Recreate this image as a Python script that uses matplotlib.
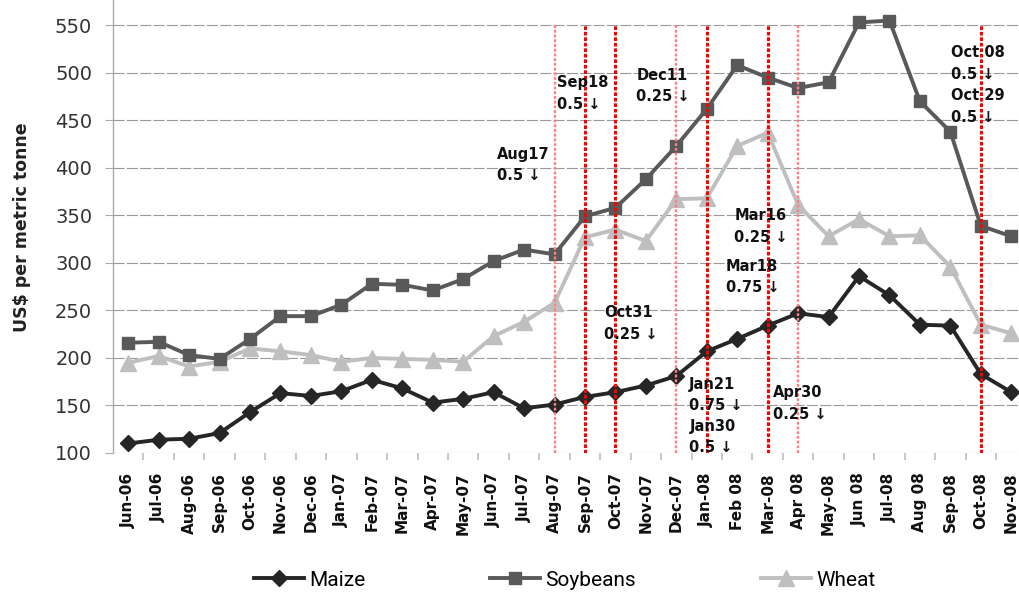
import matplotlib
matplotlib.use("Agg")
import matplotlib.pyplot as plt
from matplotlib.ticker import FixedLocator, NullFormatter

months = ["Jun-06", "Jul-06", "Aug-06", "Sep-06", "Oct-06", "Nov-06", "Dec-06",
          "Jan-07", "Feb-07", "Mar-07", "Apr-07", "May-07", "Jun-07", "Jul-07",
          "Aug-07", "Sep-07", "Oct-07", "Nov-07", "Dec-07", "Jan-08", "Feb 08",
          "Mar-08", "Apr 08", "May-08", "Jun 08", "Jul-08", "Aug 08", "Sep-08",
          "Oct-08", "Nov-08"]

maize = [110, 114, 115, 121, 143, 163, 160, 165, 177, 168, 153, 157, 164, 147,
         151, 159, 164, 171, 181, 207, 220, 234, 247, 243, 286, 266, 235, 234,
         183, 164]
soybeans = [216, 217, 203, 199, 220, 244, 244, 256, 278, 277, 271, 283, 302, 314,
            309, 349, 358, 388, 423, 462, 508, 495, 484, 490, 553, 555, 470, 438,
            339, 328]
wheat = [195, 202, 191, 196, 210, 207, 203, 196, 200, 199, 198, 196, 223, 238,
         258, 327, 335, 323, 367, 368, 423, 437, 361, 328, 346, 328, 329, 296,
         235, 226]

event_months = ["Aug-07", "Sep-07", "Oct-07", "Dec-07", "Jan-08", "Mar-08", "Apr 08", "Oct-08"]
event_strong = [False, True, True, False, True, True, False, True]

cut_labels = ["Aug17\n0.5 \u2193", "Sep18\n0.5 \u2193", "Dec11\n0.25 \u2193",
              "Oct31\n0.25 \u2193", "Jan21\n0.75 \u2193", "Jan30\n0.5 \u2193",
              "Mar16\n0.25 \u2193", "Mar18\n0.75 \u2193", "Apr30\n0.25 \u2193",
              "Oct 08\n0.5 \u2193\nOct 29\n0.5 \u2193"]
# label anchor (x in category index units, y in data units)
cut_pos = [(12.1, 403), (14.07, 478), (16.68, 486), (15.64, 236), (18.41, 161),
           (18.43, 117), (19.91, 338), (19.63, 285), (21.17, 152), (27.03, 487)]

fig = plt.figure(figsize=(10.19, 5.94), dpi=100)
ax = fig.add_axes([113 / 1019, 141 / 594, 913.5 / 1019, 453 / 594])

x = list(range(len(months)))
c_maize, c_soy, c_wheat = "#262626", "#595959", "#bfbfbf"
ax.plot(x, wheat, color=c_wheat, lw=2.8, marker="^", ms=11, zorder=3, label="Wheat")
ax.plot(x, soybeans, color=c_soy, lw=2.8, marker="s", ms=8.5, zorder=4, label="Soybeans")
ax.plot(x, maize, color=c_maize, lw=2.8, marker="D", ms=8, zorder=5, label="Maize")

for m, strong in zip(event_months, event_strong):
    xi = months.index(m)
    if strong:
        ax.vlines(xi, 100, 550, colors="#ff0000", linestyles=(0, (1.2, 0.6)), lw=2.2, zorder=6)
    else:
        ax.vlines(xi, 100, 550, colors="#ff8080", linestyles=(0, (1.2, 0.8)), lw=1.7, zorder=6)

for txt, (tx, ty) in zip(cut_labels, cut_pos):
    ax.text(tx, ty, txt, ha="left", va="center", fontsize=10.5, fontweight="bold",
            color="#111111", linespacing=1.55, zorder=7)

ax.set_xlim(-0.5, len(months) - 0.5)
ax.set_ylim(100, 100 + 453.3 / 0.9511)
ax.set_yticks(range(100, 551, 50))
ax.yaxis.grid(True, color="#999999", lw=0.8, linestyle=(0, (10, 2)))
ax.set_axisbelow(True)

ax.set_xticks(x)
ax.set_xticklabels(months, rotation=90, fontsize=11, fontweight="bold", color="#111111")
ax.tick_params(axis="x", which="major", length=0, pad=14)
ax.xaxis.set_minor_locator(FixedLocator([i + 0.5 for i in x]))
ax.xaxis.set_minor_formatter(NullFormatter())
ax.tick_params(axis="x", which="minor", length=5, color="#bfbfbf", width=1.2)
ax.tick_params(axis="y", length=6, color="#aaaaaa", labelsize=14, labelcolor="#333333", pad=9)

for s in ["top", "right", "bottom"]:
    ax.spines[s].set_visible(False)
ax.spines["left"].set_color("#aaaaaa")
ax.spines["left"].set_linewidth(1.0)

fig.text(22 / 1019, 1 - 227.5 / 594, "US$ per metric tonne", rotation=90,
         ha="center", va="center", fontsize=12.5, fontweight="bold", color="#222222")

handles, labels = ax.get_legend_handles_labels()
order = [2, 1, 0]
fig.legend([handles[i] for i in order], [labels[i] for i in order],
           loc="center", bbox_to_anchor=(0.554, 14 / 594), ncol=3, frameon=False,
           prop={"family": "Roboto", "size": 15}, handlelength=2.4, handletextpad=0.25,
           columnspacing=6.0, borderaxespad=0)

fig.savefig("out.png", dpi=100)
